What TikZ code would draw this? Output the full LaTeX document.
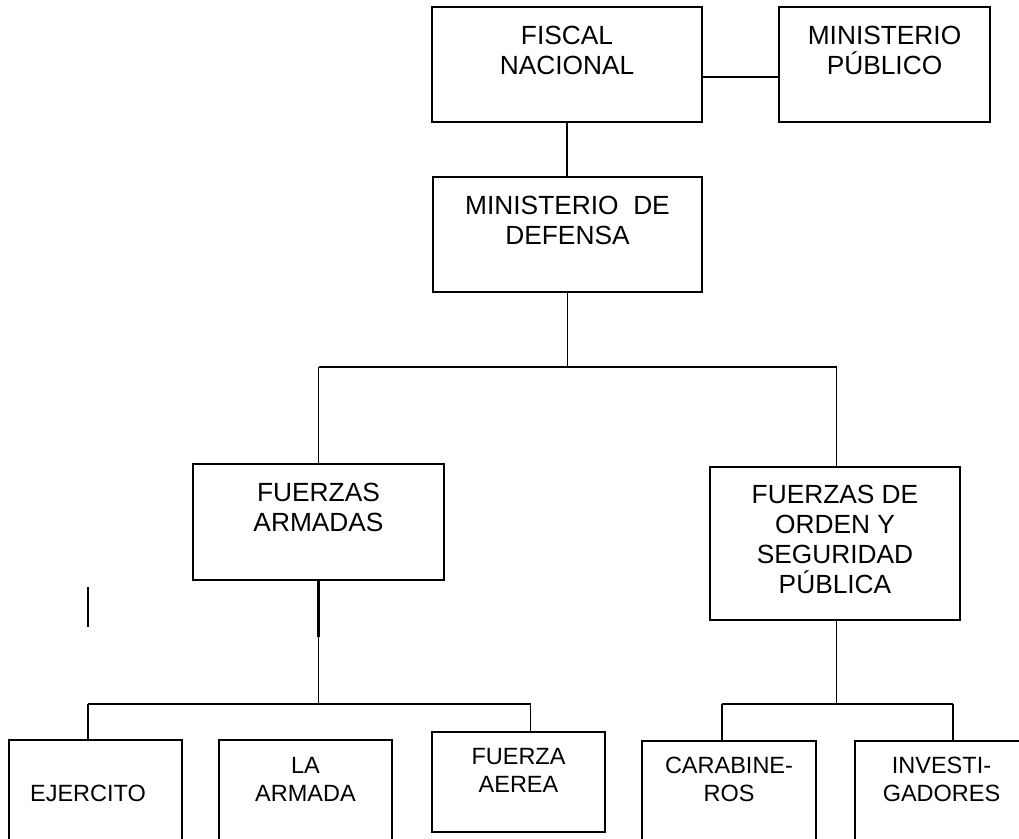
\documentclass[tikz,border=0pt]{standalone}
\usepackage{fontspec}
\setmainfont{Liberation Sans}
\begin{document}
\begin{tikzpicture}[x=1pt,y=-1pt,
  box/.style={draw=black, line width=1.8pt, rectangle, inner sep=0pt},
  bigtxt/.style={font=\fontsize{26.3}{30.2}\selectfont, align=center, inner sep=0pt, anchor=north},
  smalltxt/.style={font=\fontsize{23.5}{28}\selectfont, align=center, inner sep=0pt, anchor=north},
  conn/.style={line width=1.8pt}]
\useasboundingbox[fill=white] (0,0) rectangle (1019,838);

% boxes
\node[box, minimum width=270, minimum height=115] (fn) at (567,64.5) {};
\node[box, minimum width=211, minimum height=115] (mp) at (884.5,64.5) {};
\node[box, minimum width=269, minimum height=115] (md) at (567.5,234.5) {};
\node[box, minimum width=251, minimum height=116] (fa) at (318.5,522) {};
\node[box, minimum width=250, minimum height=153] (fo) at (835,543.5) {};
\node[box, minimum width=173, minimum height=105] (ej) at (95.5,792.5) {};
\node[box, minimum width=173, minimum height=105] (la) at (305.5,792.5) {};
\node[box, minimum width=173, minimum height=100] (fz) at (518.5,782) {};
\node[box, minimum width=174, minimum height=104] (cb) at (729,793) {};
\node[box, minimum width=173, minimum height=104] (iv) at (941.5,793) {};

% texts (first baseline minus cap height)
\node[bigtxt] (tfn) at (567,25.7) {FISCAL\\NACIONAL};
\node[bigtxt] (tmp) at (884.5,25.7) {MINISTERIO\\PÚBLICO};
\node[bigtxt] (tmd) at (567.5,195.7) {MINISTERIO\ \ DE\\DEFENSA};
\node[bigtxt] (tfa) at (318.5,482.7) {FUERZAS\\ARMADAS};
\node[bigtxt] (tfo) at (835,484.7) {FUERZAS DE\\ORDEN Y\\SEGURIDAD\\PÚBLICA};
\node[smalltxt] (tej) at (88,785.2) {EJERCITO};
\node[smalltxt] (tla) at (305.5,757.2) {LA\\ARMADA};
\node[smalltxt] (tfz) at (518.5,748.2) {FUERZA\\AEREA};
\node[smalltxt] (tcb) at (729,757.2) {CARABINE-\\ROS};
\node[smalltxt] (tiv) at (941.5,757.2) {INVESTI-\\GADORES};

% junction coordinates
\coordinate (j1) at (567.5,367);
\coordinate (jfa) at (318.5,367);
\coordinate (jfo) at (836.5,367);
\coordinate (k1) at (318.5,637);
\coordinate (j2) at (318.5,704);
\coordinate (jl) at (88,704);
\coordinate (jr) at (530.5,704);
\coordinate (j3) at (836.5,704);
\coordinate (jcb) at (722,704);
\coordinate (jiv) at (953,704);
\coordinate (s1) at (88,587);
\coordinate (s2) at (88,627);

% connectors
\draw[conn] ([yshift=-12.5pt]fn.east) -- ([yshift=-12.5pt]fn.east -| mp.west);
\draw[conn] (fn.south) -- (fn.south |- md.north);
\draw[conn] (md.south) -- (j1);
\draw[conn] (jfa) -- (jfo);
\draw[conn] (jfa) -- (fa.north);
\draw[conn] (jfo) -- (jfo |- fo.north);
\draw[line width=2.6pt] (fa.south) -- (k1);
\draw[conn] (k1) -- (j2);
\draw[conn] (jl) -- (jr);
\draw[conn] (jl) -- (jl |- ej.north);
\draw[conn] (jr) -- (jr |- fz.north);
\draw[conn] (fo.south -| j3) -- (j3);
\draw[conn] (jcb) -- (jiv);
\draw[conn] (jcb) -- (jcb |- cb.north);
\draw[conn] (jiv) -- (jiv |- iv.north);
\draw[conn] (s1) -- (s2);
\end{tikzpicture}
\end{document}
